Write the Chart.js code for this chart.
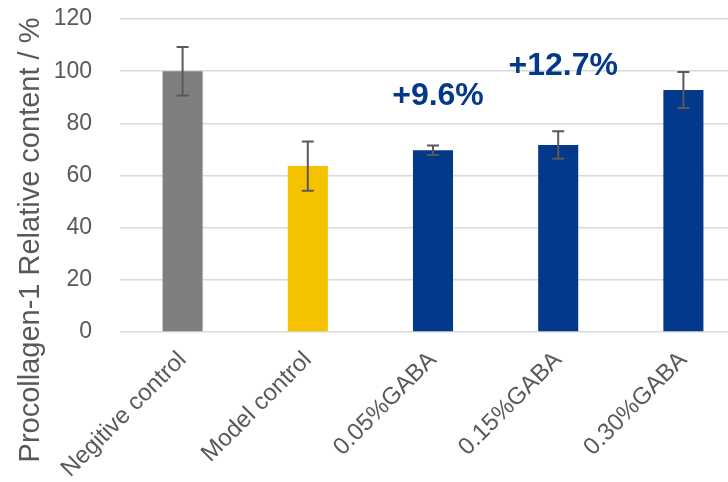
<!DOCTYPE html>
<html>
<head>
<meta charset="utf-8">
<script src="https://cdn.jsdelivr.net/npm/chart.js@4/dist/chart.umd.min.js"></script>
<style>
  html, body { margin: 0; padding: 0; background: #fff; overflow: hidden; }
  #wrap { position: relative; width: 746px; height: 482px; }
</style>
</head>
<body>
<div id="wrap"><canvas id="chart"></canvas></div>
<script>
const categories = ["Negitive control", "Model control", "0.05%GABA", "0.15%GABA", "0.30%GABA"];
const values = [100, 63.6, 69.7, 71.7, 92.8];
const errors = [9.3, 9.4, 1.8, 5.3, 6.9];
const barColors = ["#7f7f7f", "#f5c200", "#03398a", "#03398a", "#03398a"];
const yTicks = [0, 20, 40, 60, 80, 100, 120];
const yTitle = "Procollagen-1 Relative content / %";
const notes = [
    { index: 2, y: 87, text: "+9.6%" },
    { index: 3, y: 98.5, text: "+12.7%" }
];

const fontFamily = "'Liberation Sans', Arial, sans-serif";
const textGray = "#595959";

// error bars with caps
const errorBarPlugin = {
    id: "errorBars",
    afterDatasetsDraw(chart) {
        const ctx = chart.ctx;
        const xs = chart.scales.x;
        const ys = chart.scales.y;
        ctx.save();
        ctx.strokeStyle = "#595959";
        ctx.lineWidth = 2;
        values.forEach((v, i) => {
            const x = xs.getPixelForValue(i);
            const top = ys.getPixelForValue(v + errors[i]);
            const bot = ys.getPixelForValue(v - errors[i]);
            ctx.beginPath();
            ctx.moveTo(x, top);
            ctx.lineTo(x, bot);
            ctx.moveTo(x - 6, top);
            ctx.lineTo(x + 6, top);
            ctx.moveTo(x - 6, bot);
            ctx.lineTo(x + 6, bot);
            ctx.stroke();
        });
        ctx.restore();
    }
};

// percentage notes above the GABA bars + the y title (centred on the canvas like the original)
const textPlugin = {
    id: "texts",
    afterDraw(chart) {
        const ctx = chart.ctx;
        const xs = chart.scales.x;
        const ys = chart.scales.y;
        ctx.save();
        ctx.fillStyle = "#03398a";
        ctx.font = "bold 32px " + fontFamily;
        ctx.textAlign = "center";
        ctx.textBaseline = "alphabetic";
        notes.forEach(n => {
            ctx.fillText(n.text, xs.getPixelForValue(n.index) + 5, ys.getPixelForValue(n.y));
        });
        ctx.restore();

        ctx.save();
        ctx.fillStyle = textGray;
        ctx.font = "29px " + fontFamily;
        ctx.textAlign = "center";
        ctx.textBaseline = "middle";
        ctx.translate(31, 240);
        ctx.rotate(-Math.PI / 2);
        ctx.fillText(yTitle, 0, 0);
        ctx.restore();
    }
};

new Chart(document.getElementById("chart"), {
    type: "bar",
    data: {
        labels: categories,
        datasets: [{
            data: values,
            backgroundColor: barColors,
            barPercentage: 0.32,
            categoryPercentage: 1
        }]
    },
    options: {
        responsive: true,
        maintainAspectRatio: false,
        animation: false,
        layout: { padding: { top: 19, left: 55, right: 0, bottom: 0 } },
        plugins: {
            legend: { display: false },
            tooltip: { enabled: false }
        },
        scales: {
            x: {
                grid: { display: false },
                border: { display: false },
                afterFit(axis) {
                    axis.height = 150;
                    axis.paddingTop = 0;
                    axis.paddingBottom = 0;
                },
                ticks: {
                    color: textGray,
                    font: { family: fontFamily, size: 24 },
                    minRotation: 45,
                    maxRotation: 45,
                    padding: 6
                }
            },
            y: {
                min: 0,
                max: 120,
                afterBuildTicks(axis) {
                    axis.ticks = yTicks.map(v => ({ value: v }));
                },
                afterFit(axis) {
                    axis.width = 65;
                    axis.paddingTop = 0;
                    axis.paddingBottom = 0;
                },
                grid: { color: "#d9d9d9", lineWidth: 1.5, drawTicks: false },
                border: { display: false },
                ticks: {
                    color: textGray,
                    font: { family: fontFamily, size: 23 },
                    padding: 28
                }
            }
        }
    },
    plugins: [errorBarPlugin, textPlugin]
});
</script>
</body>
</html>
